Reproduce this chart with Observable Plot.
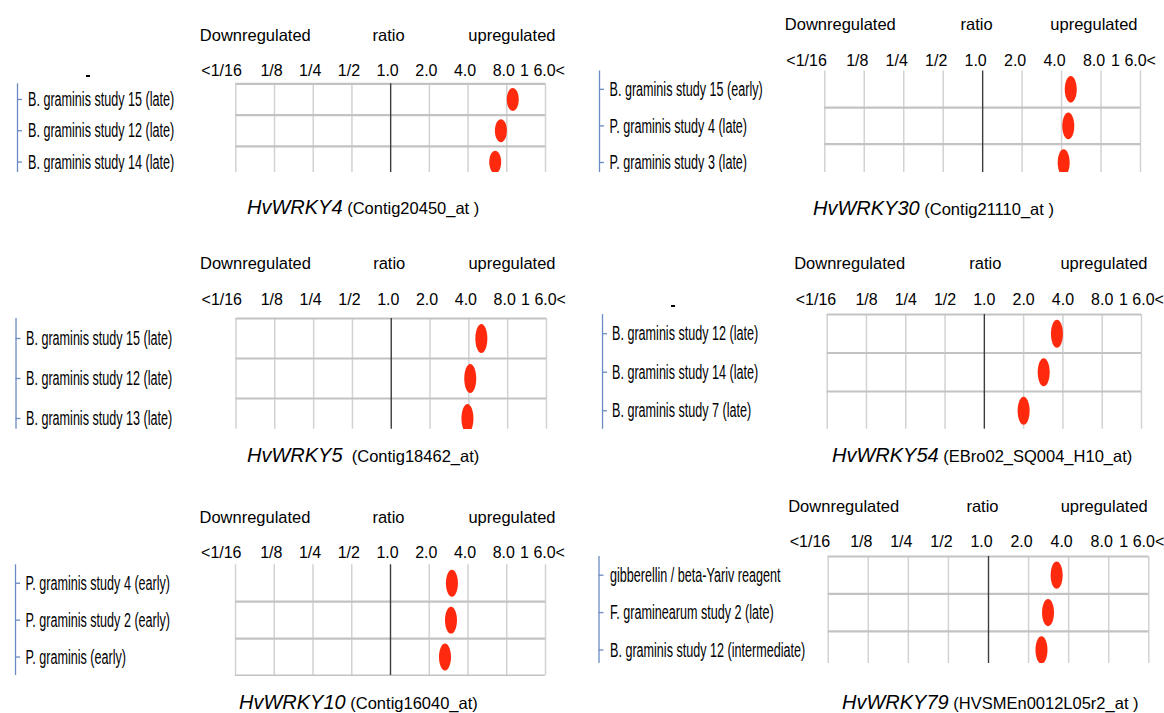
<!DOCTYPE html>
<html>
<head>
<meta charset="utf-8">
<script src="https://cdn.jsdelivr.net/npm/d3@7"></script>
<script src="https://cdn.jsdelivr.net/npm/@observablehq/plot@0.6"></script>
<style>
  html, body { margin: 0; padding: 0; background: #fff; }
  #figure { position: relative; width: 1164px; height: 713px; overflow: hidden;
            font-family: "Liberation Sans", Arial, sans-serif; color: #000; }
  .panel { position: absolute; }
  .title { position: absolute; white-space: pre; font-size: 20px; line-height: 24px; height: 24px; }
  .title .gene { font-style: italic; font-size: 20px; }
  .title .probe { font-size: 16.5px; }
  .nub { position: absolute; width: 4px; height: 2px; background: #000; }
</style>
</head>
<body>
<div id="figure"></div>
<script>
// Fold-change ratio axis shared by every panel (log2 scale, 1/16 .. 16)
const ratioTicks = [1/16, 1/8, 1/4, 1/2, 1, 2, 4, 8, 16];
const ratioTickLabels = ["<1/16", "1/8", "1/4", "1/2", "1.0", "2.0", "4.0", "8.0", "1 6.0<"];
const headerWords = ["Downregulated", "ratio", "upregulated"];

// One panel per barley WRKY gene: conditions and their expression ratios
const genes = ["HvWRKY4", "HvWRKY30", "HvWRKY5", "HvWRKY54", "HvWRKY10", "HvWRKY79"];
const probes = [" (Contig20450_at )", " (Contig21110_at )", "  (Contig18462_at)",
                " (EBro02_SQ004_H10_at)", " (Contig16040_at)", " (HVSMEn0012L05r2_at )"];

const conditionsHvWRKY4 = ["B. graminis study 15 (late)", "B. graminis study 12 (late)", "B. graminis study 14 (late)"];
const ratiosHvWRKY4 = [8.9, 7.2, 6.5];

const conditionsHvWRKY30 = ["B. graminis study 15 (early)", "P. graminis study 4 (late)", "P. graminis study 3 (late)"];
const ratiosHvWRKY30 = [4.7, 4.5, 4.15];

const conditionsHvWRKY5 = ["B. graminis study 15 (late)", "B. graminis study 12 (late)", "B. graminis study 13 (late)"];
const ratiosHvWRKY5 = [5.0, 4.1, 3.9];

const conditionsHvWRKY54 = ["B. graminis study 12 (late)", "B. graminis study 14 (late)", "B. graminis study 7 (late)"];
const ratiosHvWRKY54 = [3.6, 2.85, 2.0];

const conditionsHvWRKY10 = ["P. graminis study 4 (early)", "P. graminis study 2 (early)", "P. graminis (early)"];
const ratiosHvWRKY10 = [3.0, 2.95, 2.65];

const conditionsHvWRKY79 = ["gibberellin / beta-Yariv reagent", "F. graminearum study 2 (late)", "B. graminis study 12 (intermediate)"];
const ratiosHvWRKY79 = [3.25, 2.8, 2.5];

const conditionSets = [conditionsHvWRKY4, conditionsHvWRKY30, conditionsHvWRKY5,
                       conditionsHvWRKY54, conditionsHvWRKY10, conditionsHvWRKY79];
const ratioSets = [ratiosHvWRKY4, ratiosHvWRKY30, ratiosHvWRKY5,
                   ratiosHvWRKY54, ratiosHvWRKY10, ratiosHvWRKY79];

// Page geometry of each panel (pixels)
const layout = [
  {left: 0,   width: 580, headerY: 35,    tickY: 70.5, gridLeft: 235.3, gridRight: 545,    gridTop: 83.3,  rowH: 31.3, bottom: 172, topBorder: true,  bottomBorder: false, treeX: 17,    labelX: 27.5,  shift: -3, upDx: 13, titleX: 247, titleY: 207},
  {left: 580, width: 584, headerY: 23.5,  tickY: 60,   gridLeft: 824.3, gridRight: 1140,   gridTop: 70,    rowH: 36.6, bottom: 172, topBorder: false, bottomBorder: false, treeX: 599,   labelX: 609,   shift: -7, upDx: 4,  titleX: 813, titleY: 208},
  {left: 0,   width: 580, headerY: 263.3, tickY: 300,  gridLeft: 235.5, gridRight: 546,    gridTop: 318.3, rowH: 40,   bottom: 429, topBorder: true,  bottomBorder: false, treeX: 15.5,  labelX: 25.5,  shift: -3, upDx: 12, titleX: 247, titleY: 455},
  {left: 580, width: 584, headerY: 263.3, tickY: 300,  gridLeft: 826.7, gridRight: 1141,   gridTop: 314.3, rowH: 38.5, bottom: 429, topBorder: true,  bottomBorder: false, treeX: 602,   labelX: 611.5, shift: 0,  upDx: 6,  titleX: 832, titleY: 455},
  {left: 0,   width: 580, headerY: 516.7, tickY: 552.5,gridLeft: 235,   gridRight: 545,    gridTop: 564,   rowH: 36.9, bottom: 676, topBorder: false, bottomBorder: true,  treeX: 15,    labelX: 25,    shift: -3, upDx: 13, titleX: 239, titleY: 702},
  {left: 580, width: 584, headerY: 506,   tickY: 541.7,gridLeft: 827.7, gridRight: 1148.3, gridTop: 556,   rowH: 37.4, bottom: 663, topBorder: true,  bottomBorder: false, treeX: 598.5, labelX: 609.5, shift: -7, upDx: 6,  titleX: 842, titleY: 702}
];

const FONT = "Liberation Sans, Arial, sans-serif";
const DOT_RED = "#ff2a0e";
const TREE_BLUE = "#6a8bc4";
const NARROW = 0.6;   // horizontal squeeze of the condition names

// Upright ellipse used as the dot symbol
function ellipseSymbol(rx, ry) {
  const k = 0.5523;
  return {
    draw(ctx) {
      ctx.moveTo(rx, 0);
      ctx.bezierCurveTo(rx, ry * k, rx * k, ry, 0, ry);
      ctx.bezierCurveTo(-rx * k, ry, -rx, ry * k, -rx, 0);
      ctx.bezierCurveTo(-rx, -ry * k, -rx * k, -ry, 0, -ry);
      ctx.bezierCurveTo(rx * k, -ry, rx, -ry * k, rx, 0);
      ctx.closePath();
    }
  };
}

const figure = document.getElementById("figure");

layout.forEach((L, p) => {
  const conditions = conditionSets[p];
  const ratios = ratioSets[p];
  const n = conditions.length;

  const top = L.headerY - 14;
  const height = L.bottom - top;
  const gridBottom = Math.min(L.bottom, L.gridTop + n * L.rowH);
  const marginTop = L.gridTop - top;
  const marginBottom = L.bottom - gridBottom;
  const marginLeft = L.gridLeft - L.left;
  const marginRight = L.left + L.width - L.gridRight;

  const separators = d3.range(1, n);
  if (L.topBorder) separators.push(0);
  if (L.bottomBorder) separators.push(n);

  const topText = {frameAnchor: "top", lineAnchor: "middle", fill: "#000"};

  const chart = Plot.plot({
    width: L.width,
    height,
    marginTop, marginBottom, marginLeft, marginRight,
    style: {background: "transparent", fontFamily: FONT, color: "#000", overflow: "hidden"},
    x: {type: "log", base: 2, domain: [ratioTicks[0], ratioTicks[ratioTicks.length - 1]], axis: null},
    y: {type: "linear", domain: [0, n], range: [marginTop, marginTop + n * L.rowH], axis: null},
    marks: [
      // vertical grid at every doubling, with the 1.0 reference in dark grey
      Plot.ruleX(ratioTicks.filter(v => v !== 1), {x: d => d, stroke: "#d2d2d2", strokeWidth: 1.5}),
      Plot.ruleY(separators, {y: d => d, stroke: "#c3c3c3", strokeWidth: 2.2}),
      Plot.ruleX([1], {x: d => d, stroke: "#3c3c3c", strokeWidth: 1.4}),

      // condition tree on the left
      Plot.ruleX([ratioTicks[0]], {x: d => d, dx: L.treeX - L.gridLeft, stroke: TREE_BLUE, strokeWidth: 1.3}),
      Plot.ruleY(conditions, {y: (d, i) => i + 0.5, insetLeft: L.treeX - L.gridLeft,
        insetRight: L.gridRight - L.treeX - 5, stroke: TREE_BLUE, strokeWidth: 1.3}),
      Plot.text(conditions, {y: (d, i) => i + 0.5, text: d => d, frameAnchor: "left", textAnchor: "start",
        dx: L.labelX - L.gridLeft, fontSize: 21, fill: "#000"}),

      // expression ratios
      Plot.dot(ratios, {x: d => d, y: (d, i) => i + 0.5, symbol: ellipseSymbol(6, 0.365 * L.rowH),
        fill: DOT_RED, stroke: "none"}),

      // ratio tick labels above the grid
      Plot.text(ratioTicks.slice(1), {...topText, x: d => d, text: (d, i) => ratioTickLabels[i + 1],
        dx: L.shift, dy: L.tickY - L.gridTop, fontSize: 16}),
      Plot.text([ratioTicks[0]], {...topText, x: d => d, text: () => ratioTickLabels[0], textAnchor: "end",
        dx: L.shift + 9, dy: L.tickY - L.gridTop, fontSize: 16}),

      // header line
      Plot.text([ratioTicks[0]], {...topText, x: d => d, text: () => headerWords[0], textAnchor: "start",
        dx: L.shift - 33, dy: L.headerY - L.gridTop, fontSize: 16.5}),
      Plot.text([1], {...topText, x: d => d, text: () => headerWords[1], textAnchor: "middle",
        dx: L.shift + 1, dy: L.headerY - L.gridTop, fontSize: 16.5}),
      Plot.text([ratioTicks[ratioTicks.length - 1]], {...topText, x: d => d, text: () => headerWords[2],
        textAnchor: "end", dx: L.shift + L.upDx, dy: L.headerY - L.gridTop, fontSize: 16.5})
    ]
  });

  // condition names are set in a narrow face
  chart.querySelectorAll("text").forEach(t => {
    if (!conditions.includes(t.textContent)) return;
    const tr = t.getAttribute("transform");
    if (tr) {
      t.setAttribute("transform", tr + ` scale(${NARROW},1)`);
    } else {
      const x = +t.getAttribute("x") || 0;
      const y = +t.getAttribute("y") || 0;
      t.setAttribute("x", 0);
      t.setAttribute("y", 0);
      t.setAttribute("transform", `translate(${x},${y}) scale(${NARROW},1)`);
    }
  });

  const holder = document.createElement("div");
  holder.className = "panel";
  holder.style.left = L.left + "px";
  holder.style.top = top + "px";
  holder.appendChild(chart);
  figure.appendChild(holder);

  // gene name and probe set below the panel
  const title = document.createElement("div");
  title.className = "title";
  title.style.left = L.titleX + "px";
  title.style.top = (L.titleY - 12) + "px";
  const gene = document.createElement("span");
  gene.className = "gene";
  gene.textContent = genes[p];
  const probe = document.createElement("span");
  probe.className = "probe";
  probe.textContent = probes[p];
  title.appendChild(gene);
  title.appendChild(probe);
  figure.appendChild(title);
});

// small marks above the first and fourth condition trees
[[86, 75], [671, 305]].forEach(([x, y]) => {
  const m = document.createElement("div");
  m.className = "nub";
  m.style.left = x + "px";
  m.style.top = y + "px";
  figure.appendChild(m);
});
</script>
</body>
</html>
